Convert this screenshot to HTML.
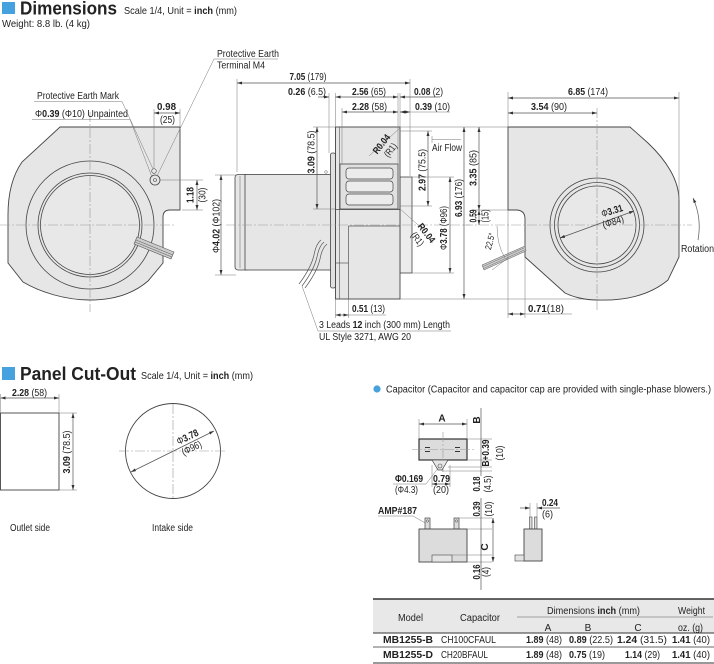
<!DOCTYPE html>
<html><head><meta charset="utf-8"><style>
html,body{margin:0;padding:0;background:#fff;}
svg{display:block;font-size:10px;font-family:"Liberation Sans",Arial,sans-serif}
text{fill:#222}
.b{font-weight:bold}
.d{stroke:#555;stroke-width:0.7;fill:none}
.e{stroke:#777;stroke-width:0.5;fill:none}
.c{stroke:#999;stroke-width:0.6;stroke-dasharray:10,2,2,2;fill:none}
</style></head><body>
<svg width="714" height="664" viewBox="0 0 714 664" xmlns="http://www.w3.org/2000/svg">
<defs><marker id="a" viewBox="0 0 10 6" refX="10" refY="3" markerWidth="5" markerHeight="3" orient="auto-start-reverse" markerUnits="userSpaceOnUse"><path d="M0,0L10,3L0,6z" fill="#333"/></marker></defs>

<!-- HEADER -->
<rect x="2" y="2" width="13" height="12" fill="#45a2de"/>
<text x="20" y="14.5" class="b" font-size="18" textLength="97" lengthAdjust="spacingAndGlyphs">Dimensions</text>
<text x="124" y="14" font-size="10.5" textLength="113" lengthAdjust="spacingAndGlyphs">Scale 1/4, Unit = <tspan class="b">inch</tspan> (mm)</text>
<text x="2" y="27" font-size="10" textLength="88" lengthAdjust="spacingAndGlyphs">Weight: 8.8 lb. (4 kg)</text>

<!-- LEFT VIEW -->
<path d="M60,127 L180,127 L180,210 L170,210 Q163,210 163,217 L163,263 L148,281 C133,294 113,300 90,300 C65,300 40,292 23,282 L8,263 L8,215 Q8,182 22,162 Z" fill="#e6e6e6" stroke="#444" stroke-width="0.9"/>
<circle cx="90" cy="225" r="64" fill="#e6e6e6" stroke="#444" stroke-width="0.8"/>
<circle cx="90" cy="225" r="52" fill="none" stroke="#444" stroke-width="0.8"/>
<circle cx="90" cy="225" r="49.5" fill="#e8e8e8" stroke="#444" stroke-width="0.8"/>
<line class="c" x1="90" y1="112" x2="90" y2="312"/>
<line class="c" x1="0" y1="225" x2="175" y2="225"/>
<polygon points="137,237 174,252 171,259 134,244" fill="#ccc" stroke="#555" stroke-width="0.6"/>
<line x1="136" y1="240" x2="173" y2="255" stroke="#555" stroke-width="0.5"/>
<line x1="135" y1="242" x2="172" y2="257" stroke="#555" stroke-width="0.5"/>
<circle cx="154" cy="171" r="2.3" fill="none" stroke="#444" stroke-width="0.6"/>
<circle cx="155" cy="180" r="5" fill="none" stroke="#444" stroke-width="0.8"/>
<circle cx="155" cy="180" r="1.5" fill="none" stroke="#444" stroke-width="0.6"/>

<text x="37" y="99" textLength="82" lengthAdjust="spacingAndGlyphs">Protective Earth Mark</text>
<line class="e" x1="34" y1="101.5" x2="122" y2="101.5"/>
<text x="35" y="117" textLength="93" lengthAdjust="spacingAndGlyphs">Φ<tspan class="b">0.39</tspan> (Φ10) Unpainted</text>
<line class="e" x1="32" y1="119.5" x2="130" y2="119.5"/>
<line class="e" x1="122" y1="101.5" x2="153" y2="169"/>
<line class="e" x1="130" y1="119.5" x2="152" y2="177"/>
<text x="157" y="110" class="b" textLength="19" lengthAdjust="spacingAndGlyphs">0.98</text>
<text x="160" y="123" textLength="15" lengthAdjust="spacingAndGlyphs">(25)</text>
<line class="e" x1="154" y1="109" x2="154" y2="168"/>
<line class="e" x1="180" y1="109" x2="180" y2="127"/>
<line class="d" x1="154" y1="113" x2="180" y2="113" marker-start="url(#a)" marker-end="url(#a)"/>

<text x="217" y="57" textLength="62" lengthAdjust="spacingAndGlyphs">Protective Earth</text>
<text x="217" y="68.5" textLength="48" lengthAdjust="spacingAndGlyphs">Terminal M4</text>
<line class="e" x1="214" y1="59" x2="278" y2="59"/>
<line class="e" x1="214" y1="59" x2="157" y2="176"/>

<line class="e" x1="160" y1="180" x2="203" y2="180"/>
<line class="e" x1="182" y1="210" x2="203" y2="210"/>
<line class="d" x1="197" y1="180" x2="197" y2="210" marker-start="url(#a)" marker-end="url(#a)"/>
<text class="b" transform="translate(193.5,195) rotate(-90)" text-anchor="middle" textLength="16" lengthAdjust="spacingAndGlyphs">1.18</text>
<text transform="translate(205.5,195) rotate(-90)" text-anchor="middle" textLength="15" lengthAdjust="spacingAndGlyphs">(30)</text>

<line class="e" x1="215" y1="175" x2="236" y2="175"/>
<line class="e" x1="215" y1="275" x2="236" y2="275"/>
<line class="d" x1="221" y1="175" x2="221" y2="275" marker-start="url(#a)" marker-end="url(#a)"/>
<text transform="translate(219.5,226) rotate(-90)" text-anchor="middle" textLength="54" lengthAdjust="spacingAndGlyphs">Φ<tspan class="b">4.02</tspan> (Φ102)</text>

<!-- MIDDLE VIEW -->
<rect x="235" y="174.5" width="14" height="95.5" rx="3" fill="#e6e6e6" stroke="#444" stroke-width="0.8"/>
<line x1="240" y1="176" x2="240" y2="268" stroke="#666" stroke-width="0.5"/>
<rect x="245" y="174.5" width="86" height="95.5" fill="#e6e6e6" stroke="#444" stroke-width="0.8"/>
<rect x="330.5" y="153" width="5" height="135" rx="2" fill="#e0e0e0" stroke="#444" stroke-width="0.8"/>
<rect x="400" y="177" width="12" height="96" fill="#ececec" stroke="#444" stroke-width="0.8"/>
<rect x="335.5" y="127" width="64.5" height="172" fill="#e6e6e6" stroke="#444" stroke-width="0.9"/>
<line x1="339.5" y1="127" x2="339.5" y2="299" stroke="#555" stroke-width="0.6"/>
<rect x="340" y="164" width="58" height="45" fill="#e0e0e0" stroke="#444" stroke-width="0.8"/>
<rect x="346" y="168" width="47" height="11" rx="3" fill="#ececec" stroke="#444" stroke-width="0.7"/>
<rect x="346" y="181" width="47" height="11" rx="3" fill="#ececec" stroke="#444" stroke-width="0.7"/>
<rect x="346" y="194" width="47" height="11" rx="3" fill="#ececec" stroke="#444" stroke-width="0.7"/>
<line x1="335.5" y1="209.5" x2="400" y2="209.5" stroke="#444" stroke-width="0.8"/>
<line x1="348.5" y1="226" x2="348.5" y2="299" stroke="#555" stroke-width="0.7"/>
<line x1="348.5" y1="226" x2="400" y2="226" stroke="#555" stroke-width="0.7"/>
<line x1="336" y1="263" x2="348.5" y2="263" stroke="#555" stroke-width="0.7"/>
<circle cx="326" cy="172" r="1.3" fill="none" stroke="#555" stroke-width="0.5"/>
<line class="c" x1="226" y1="225" x2="470" y2="225"/>
<g fill="none" stroke="#555" stroke-width="0.7">
<path d="M321,240 Q316,244 314,255 Q311,268 299,284"/>
<path d="M324,242 Q319,246 317,257 Q314,270 302,286"/>
<path d="M327,244 Q322,248 320,259 Q317,272 305,288"/>
</g>
<line class="e" x1="302" y1="286" x2="318" y2="331"/>
<line class="e" x1="318" y1="331" x2="451" y2="331"/>
<text x="319" y="328" textLength="131" lengthAdjust="spacingAndGlyphs">3 Leads <tspan class="b">12</tspan> inch (300 mm) Length</text>
<text x="319" y="340" textLength="92" lengthAdjust="spacingAndGlyphs">UL Style 3271,  AWG 20</text>

<!-- middle dims -->
<line class="e" x1="237" y1="79" x2="237" y2="172"/>
<line class="e" x1="410" y1="79" x2="410" y2="176"/>
<line class="d" x1="237" y1="83" x2="410" y2="83" marker-start="url(#a)" marker-end="url(#a)"/>
<text x="308" y="80" text-anchor="middle" textLength="37" lengthAdjust="spacingAndGlyphs"><tspan class="b">7.05</tspan> (179)</text>
<line class="e" x1="329" y1="93" x2="329" y2="153"/>
<line class="e" x1="335.5" y1="93" x2="335.5" y2="127"/>
<line class="e" x1="342" y1="108" x2="342" y2="164"/>
<line class="e" x1="398" y1="93" x2="398" y2="164"/>
<line class="e" x1="400" y1="93" x2="400" y2="127"/>
<line class="d" x1="318" y1="97" x2="329" y2="97" marker-end="url(#a)"/>
<line class="d" x1="335.5" y1="97" x2="398" y2="97" marker-start="url(#a)" marker-end="url(#a)"/>
<line class="d" x1="400" y1="97" x2="440" y2="97" marker-start="url(#a)"/>
<text x="288" y="95" textLength="38" lengthAdjust="spacingAndGlyphs"><tspan class="b">0.26</tspan> (6.5)</text>
<text x="352" y="95" textLength="34" lengthAdjust="spacingAndGlyphs"><tspan class="b">2.56</tspan> (65)</text>
<text x="414" y="95" textLength="29" lengthAdjust="spacingAndGlyphs"><tspan class="b">0.08</tspan> (2)</text>
<line class="d" x1="342" y1="112" x2="398" y2="112" marker-start="url(#a)" marker-end="url(#a)"/>
<line class="d" x1="400" y1="112" x2="410" y2="112" marker-start="url(#a)" marker-end="url(#a)"/>
<line class="e" x1="410" y1="112" x2="450" y2="112"/>
<text x="352" y="110" textLength="35" lengthAdjust="spacingAndGlyphs"><tspan class="b">2.28</tspan> (58)</text>
<text x="415" y="110" textLength="35" lengthAdjust="spacingAndGlyphs"><tspan class="b">0.39</tspan> (10)</text>

<line class="e" x1="313" y1="127" x2="335" y2="127"/>
<line class="e" x1="313" y1="209" x2="335" y2="209"/>
<line class="d" x1="317" y1="127" x2="317" y2="209" marker-start="url(#a)" marker-end="url(#a)"/>
<text transform="translate(314.5,152) rotate(-90)" text-anchor="middle" textLength="43" lengthAdjust="spacingAndGlyphs"><tspan class="b">3.09</tspan> (78.5)</text>

<line class="e" x1="400" y1="128" x2="369" y2="156"/>
<text class="b" transform="translate(384,146) rotate(-52)" text-anchor="middle" font-size="9.5" textLength="22" lengthAdjust="spacingAndGlyphs">R0.04</text>
<text transform="translate(393,152) rotate(-52)" text-anchor="middle" font-size="9.5" textLength="15" lengthAdjust="spacingAndGlyphs">(R1)</text>
<line class="e" x1="399" y1="208" x2="426" y2="232"/>
<text class="b" transform="translate(424,235) rotate(52)" text-anchor="middle" font-size="9.5" textLength="22" lengthAdjust="spacingAndGlyphs">R0.04</text>
<text transform="translate(415,241) rotate(52)" text-anchor="middle" font-size="9.5" textLength="15" lengthAdjust="spacingAndGlyphs">(R1)</text>

<line class="e" x1="432" y1="139.5" x2="461" y2="139.5"/>
<line class="e" x1="432" y1="136" x2="432" y2="143"/>
<text x="432" y="151" textLength="30" lengthAdjust="spacingAndGlyphs">Air Flow</text>
<line class="e" x1="400" y1="131" x2="432" y2="131"/>
<line class="e" x1="400" y1="206" x2="432" y2="206"/>
<line class="d" x1="428" y1="131" x2="428" y2="206" marker-start="url(#a)" marker-end="url(#a)"/>
<text transform="translate(425.5,170) rotate(-90)" text-anchor="middle" textLength="42" lengthAdjust="spacingAndGlyphs"><tspan class="b">2.97</tspan> (75.5)</text>
<line class="e" x1="412" y1="177" x2="454" y2="177"/>
<line class="e" x1="412" y1="273" x2="454" y2="273"/>
<line class="d" x1="450" y1="177" x2="450" y2="273" marker-start="url(#a)" marker-end="url(#a)"/>
<text transform="translate(447,228) rotate(-90)" text-anchor="middle" textLength="44" lengthAdjust="spacingAndGlyphs">Φ<tspan class="b">3.78</tspan> (Φ96)</text>
<line class="e" x1="400" y1="127" x2="508" y2="127"/>
<line class="e" x1="400" y1="299" x2="597" y2="299"/>
<line class="d" x1="464" y1="127" x2="464" y2="299" marker-start="url(#a)" marker-end="url(#a)"/>
<text transform="translate(462,198) rotate(-90)" text-anchor="middle" textLength="38" lengthAdjust="spacingAndGlyphs"><tspan class="b">6.93</tspan> (176)</text>

<line class="e" x1="335.5" y1="299" x2="335.5" y2="318"/>
<line class="e" x1="348.5" y1="299" x2="348.5" y2="318"/>
<line class="d" x1="335.5" y1="315" x2="348.5" y2="315" marker-start="url(#a)" marker-end="url(#a)"/>
<line class="e" x1="348.5" y1="315" x2="386" y2="315"/>
<text x="352" y="312" textLength="33" lengthAdjust="spacingAndGlyphs"><tspan class="b">0.51</tspan> (13)</text>

<!-- RIGHT VIEW -->
<path d="M508,127 L630,127 L648,143 C666,160 679,180 679,200 L679,257 L668,280 C650,295 625,301 597,300 C585,300 573,297 565,293 L525,257 L525,219 Q525,210 516,210 L508,210 Z" fill="#e6e6e6" stroke="#444" stroke-width="0.9"/>
<circle cx="597" cy="225" r="47" fill="#e6e6e6" stroke="#444" stroke-width="0.8"/>
<circle cx="597" cy="225" r="42.5" fill="none" stroke="#444" stroke-width="0.8"/>
<circle cx="597" cy="225" r="39" fill="#e8e8e8" stroke="#444" stroke-width="0.8"/>
<line class="c" x1="597" y1="108" x2="597" y2="312"/>
<line class="c" x1="463" y1="225" x2="692" y2="225"/>
<line class="d" x1="560" y1="238" x2="634" y2="211" marker-start="url(#a)" marker-end="url(#a)"/>
<text transform="translate(613,214) rotate(-17)" text-anchor="middle" textLength="22" lengthAdjust="spacingAndGlyphs">Φ<tspan class="b">3.31</tspan></text>
<text transform="translate(614,225) rotate(-17)" text-anchor="middle" textLength="22" lengthAdjust="spacingAndGlyphs">(Φ84)</text>
<polygon points="525,246 526,251 484,270 482,265" fill="#ccc" stroke="#555" stroke-width="0.5"/>
<line x1="525" y1="247.5" x2="483" y2="266.5" stroke="#555" stroke-width="0.4"/>
<line x1="525.5" y1="249.5" x2="483.5" y2="268.5" stroke="#555" stroke-width="0.4"/>
<path class="e" d="M497,226 Q497,245 505,258"/>
<line class="e" x1="508" y1="258" x2="492" y2="270"/>
<text transform="translate(493,242) rotate(-75)" text-anchor="middle" font-size="9" textLength="17" lengthAdjust="spacingAndGlyphs">22.5°</text>

<line class="e" x1="508" y1="92" x2="508" y2="127"/>
<line class="e" x1="679" y1="92" x2="679" y2="200"/>
<line class="d" x1="508" y1="98" x2="679" y2="98" marker-start="url(#a)" marker-end="url(#a)"/>
<text x="588" y="95" text-anchor="middle" textLength="40" lengthAdjust="spacingAndGlyphs"><tspan class="b">6.85</tspan> (174)</text>
<line class="d" x1="508" y1="113" x2="597" y2="113" marker-start="url(#a)" marker-end="url(#a)"/>
<text x="549" y="110" text-anchor="middle" textLength="36" lengthAdjust="spacingAndGlyphs"><tspan class="b">3.54</tspan> (90)</text>
<line class="e" x1="472" y1="210" x2="508" y2="210"/>
<line class="d" x1="479" y1="127" x2="479" y2="210" marker-start="url(#a)" marker-end="url(#a)"/>
<line class="d" x1="479" y1="210" x2="479" y2="225" marker-start="url(#a)" marker-end="url(#a)"/>
<text transform="translate(476.5,168) rotate(-90)" text-anchor="middle" textLength="36" lengthAdjust="spacingAndGlyphs"><tspan class="b">3.35</tspan> (85)</text>
<text class="b" transform="translate(476.5,216) rotate(-90)" text-anchor="middle" textLength="13" lengthAdjust="spacingAndGlyphs">0.59</text>
<text transform="translate(488.5,216) rotate(-90)" text-anchor="middle" textLength="13" lengthAdjust="spacingAndGlyphs">(15)</text>
<line class="e" x1="508" y1="210" x2="508" y2="318"/>
<line class="e" x1="525" y1="257" x2="525" y2="318"/>
<line class="d" x1="508" y1="314" x2="525" y2="314" marker-start="url(#a)" marker-end="url(#a)"/>
<line class="e" x1="525" y1="314" x2="572" y2="314"/>
<text x="528" y="312" textLength="36" lengthAdjust="spacingAndGlyphs"><tspan class="b">0.71</tspan>(18)</text>
<path class="d" d="M698,240 Q702,218 693,198" marker-end="url(#a)"/>
<text x="681" y="252" textLength="33" lengthAdjust="spacingAndGlyphs">Rotation</text>

<!-- PANEL CUT-OUT -->
<rect x="2" y="367" width="13" height="13" fill="#45a2de"/>
<text x="20" y="380" class="b" font-size="18" textLength="116" lengthAdjust="spacingAndGlyphs">Panel Cut-Out</text>
<text x="141" y="379" font-size="10.5" textLength="112" lengthAdjust="spacingAndGlyphs">Scale 1/4, Unit = <tspan class="b">inch</tspan> (mm)</text>
<rect x="0.5" y="413" width="58.5" height="77" fill="#fff" stroke="#444" stroke-width="0.9"/>
<line class="e" x1="0.5" y1="394" x2="0.5" y2="413"/>
<line class="e" x1="59" y1="394" x2="59" y2="413"/>
<line class="d" x1="0.5" y1="398" x2="59" y2="398" marker-start="url(#a)" marker-end="url(#a)"/>
<text x="12" y="396" textLength="35" lengthAdjust="spacingAndGlyphs"><tspan class="b">2.28</tspan> (58)</text>
<line class="e" x1="59" y1="413" x2="77" y2="413"/>
<line class="e" x1="59" y1="490" x2="77" y2="490"/>
<line class="d" x1="73" y1="413" x2="73" y2="490" marker-start="url(#a)" marker-end="url(#a)"/>
<text transform="translate(70,452) rotate(-90)" text-anchor="middle" textLength="43" lengthAdjust="spacingAndGlyphs"><tspan class="b">3.09</tspan> (78.5)</text>
<circle cx="173" cy="451" r="47.5" fill="none" stroke="#444" stroke-width="0.9"/>
<line class="c" x1="119" y1="451" x2="226" y2="451"/>
<line class="c" x1="173" y1="404" x2="173" y2="500"/>
<line class="d" x1="131" y1="472" x2="214" y2="431" marker-start="url(#a)" marker-end="url(#a)"/>
<text transform="translate(189,440) rotate(-26)" text-anchor="middle" textLength="23" lengthAdjust="spacingAndGlyphs">Φ<tspan class="b">3.78</tspan></text>
<text transform="translate(193,451) rotate(-26)" text-anchor="middle" textLength="21" lengthAdjust="spacingAndGlyphs">(Φ96)</text>
<text x="10" y="531" textLength="40" lengthAdjust="spacingAndGlyphs">Outlet side</text>
<text x="152" y="531" textLength="41" lengthAdjust="spacingAndGlyphs">Intake side</text>

<!-- CAPACITOR -->
<circle cx="377" cy="389" r="3.6" fill="#45a2de"/>
<text x="386" y="392.5" textLength="325" lengthAdjust="spacingAndGlyphs">Capacitor (Capacitor and capacitor cap are provided with single-phase blowers.)</text>
<rect x="419" y="439" width="48" height="21" fill="#dcdcdc" stroke="#333" stroke-width="1.2"/>
<g stroke="#333" stroke-width="1"><line x1="425" y1="447.5" x2="430" y2="447.5"/><line x1="425" y1="451.5" x2="430" y2="451.5"/><line x1="455" y1="447.5" x2="460" y2="447.5"/><line x1="455" y1="451.5" x2="460" y2="451.5"/></g>
<line class="c" x1="443" y1="432" x2="443" y2="472"/>
<line class="c" x1="412" y1="449.5" x2="474" y2="449.5"/>
<polygon points="432,460 448,460 442,470 438,470" fill="#e6e6e6" stroke="#444" stroke-width="0.7"/>
<circle cx="440" cy="466" r="2" fill="none" stroke="#444" stroke-width="0.6"/>
<line class="e" x1="419" y1="419" x2="419" y2="439"/>
<line class="e" x1="467" y1="419" x2="467" y2="439"/>
<line class="d" x1="419" y1="424" x2="467" y2="424" marker-start="url(#a)" marker-end="url(#a)"/>
<text x="442" y="421.5" class="b" text-anchor="middle">A</text>
<line class="e" x1="467" y1="439" x2="492" y2="439"/>
<line class="e" x1="467" y1="460" x2="492" y2="460"/>
<line class="e" x1="448" y1="467" x2="492" y2="467"/>
<line class="e" x1="442" y1="471" x2="492" y2="471"/>
<line class="d" x1="481" y1="408" x2="481" y2="476"/>
<text class="b" transform="translate(480,420) rotate(-90)" text-anchor="middle">B</text>
<text class="b" transform="translate(489,453) rotate(-90)" text-anchor="middle" textLength="27" lengthAdjust="spacingAndGlyphs">B+0.39</text>
<text transform="translate(503,453) rotate(-90)" text-anchor="middle" textLength="15" lengthAdjust="spacingAndGlyphs">(10)</text>
<text class="b" transform="translate(480,484) rotate(-90)" text-anchor="middle" textLength="15" lengthAdjust="spacingAndGlyphs">0.18</text>
<text transform="translate(491,484) rotate(-90)" text-anchor="middle" textLength="17" lengthAdjust="spacingAndGlyphs">(4.5)</text>
<text x="395" y="482" class="b" textLength="28" lengthAdjust="spacingAndGlyphs">Φ0.169</text>
<text x="395" y="493" textLength="23" lengthAdjust="spacingAndGlyphs">(Φ4.3)</text>
<line class="e" x1="393" y1="484" x2="426" y2="484"/>
<line class="e" x1="426" y1="484" x2="439" y2="467"/>
<text x="433" y="482" class="b" textLength="17" lengthAdjust="spacingAndGlyphs">0.79</text>
<text x="433" y="493" textLength="16" lengthAdjust="spacingAndGlyphs">(20)</text>
<line class="e" x1="432" y1="465" x2="432" y2="487"/>
<line class="e" x1="450" y1="465" x2="450" y2="487"/>
<line class="d" x1="432" y1="484" x2="450" y2="484" marker-start="url(#a)" marker-end="url(#a)"/>

<text x="378" y="514" class="b" textLength="39" lengthAdjust="spacingAndGlyphs">AMP#187</text>
<line class="e" x1="378" y1="516" x2="413" y2="516"/>
<line class="e" x1="413" y1="516" x2="427" y2="524"/>
<rect x="425" y="518" width="5" height="11" fill="#dcdcdc" stroke="#444" stroke-width="0.7"/>
<rect x="454" y="518" width="5" height="11" fill="#dcdcdc" stroke="#444" stroke-width="0.7"/>
<circle cx="427.5" cy="521" r="1.2" fill="none" stroke="#444" stroke-width="0.5"/>
<circle cx="456.5" cy="521" r="1.2" fill="none" stroke="#444" stroke-width="0.5"/>
<rect x="419" y="529" width="48" height="33" fill="#dcdcdc" stroke="#444" stroke-width="0.9"/>
<rect x="432" y="555" width="20" height="7" fill="#e4e4e4" stroke="#444" stroke-width="0.6"/>
<line class="e" x1="459" y1="518" x2="492" y2="518"/>
<line class="e" x1="467" y1="529" x2="492" y2="529"/>
<line class="e" x1="452" y1="555" x2="492" y2="555"/>
<line class="e" x1="467" y1="562" x2="492" y2="562"/>
<line class="d" x1="481" y1="498" x2="481" y2="590"/>
<line class="d" x1="493" y1="518" x2="493" y2="562" marker-start="url(#a)" marker-end="url(#a)"/>
<text class="b" transform="translate(480,509) rotate(-90)" text-anchor="middle" textLength="15" lengthAdjust="spacingAndGlyphs">0.39</text>
<text transform="translate(492,509) rotate(-90)" text-anchor="middle" textLength="15" lengthAdjust="spacingAndGlyphs">(10)</text>
<text class="b" transform="translate(488,547) rotate(-90)" text-anchor="middle">C</text>
<text class="b" transform="translate(480,572) rotate(-90)" text-anchor="middle" textLength="15" lengthAdjust="spacingAndGlyphs">0.16</text>
<text transform="translate(489,572) rotate(-90)" text-anchor="middle" textLength="10" lengthAdjust="spacingAndGlyphs">(4)</text>

<rect x="529.5" y="517" width="2.5" height="12" fill="#dcdcdc" stroke="#444" stroke-width="0.6"/>
<rect x="534.5" y="517" width="2.5" height="12" fill="#dcdcdc" stroke="#444" stroke-width="0.6"/>
<rect x="524" y="529" width="18" height="32" fill="#dcdcdc" stroke="#444" stroke-width="0.9"/>
<rect x="515" y="555" width="9" height="6" fill="#e4e4e4" stroke="#444" stroke-width="0.6"/>
<line class="e" x1="530" y1="503" x2="530" y2="517"/>
<line class="e" x1="537" y1="503" x2="537" y2="517"/>
<line class="d" x1="520" y1="508" x2="530" y2="508" marker-end="url(#a)"/>
<line class="d" x1="537" y1="508" x2="560" y2="508" marker-start="url(#a)"/>
<text x="542" y="506" class="b" textLength="16" lengthAdjust="spacingAndGlyphs">0.24</text>
<text x="542" y="517.5" textLength="11" lengthAdjust="spacingAndGlyphs">(6)</text>

<!-- TABLE -->
<rect x="373" y="599" width="341" height="34" fill="#e8e8e8"/>
<line x1="373" y1="599" x2="714" y2="599" stroke="#333" stroke-width="1.6"/>
<line x1="373" y1="633" x2="714" y2="633" stroke="#333" stroke-width="1"/>
<line x1="517" y1="617" x2="713" y2="617" stroke="#888" stroke-width="0.7"/>
<line x1="373" y1="647" x2="714" y2="647" stroke="#333" stroke-width="0.8"/>
<line x1="373" y1="663" x2="714" y2="663" stroke="#333" stroke-width="1"/>
<text x="410.5" y="621" text-anchor="middle" textLength="25" lengthAdjust="spacingAndGlyphs">Model</text>
<text x="480" y="621" text-anchor="middle" textLength="40" lengthAdjust="spacingAndGlyphs">Capacitor</text>
<text x="593.5" y="614" text-anchor="middle" textLength="93" lengthAdjust="spacingAndGlyphs">Dimensions <tspan class="b">inch</tspan> (mm)</text>
<text x="691.5" y="614" text-anchor="middle" textLength="27" lengthAdjust="spacingAndGlyphs">Weight</text>
<text x="548" y="631" text-anchor="middle">A</text>
<text x="588" y="631" text-anchor="middle">B</text>
<text x="638" y="631" text-anchor="middle">C</text>
<text x="690.5" y="631" text-anchor="middle" textLength="25" lengthAdjust="spacingAndGlyphs">oz. (g)</text>
<text x="383" y="643" class="b" font-size="10.5" textLength="50" lengthAdjust="spacingAndGlyphs">MB1255-B</text>
<text x="441" y="643" font-size="10.5" textLength="55" lengthAdjust="spacingAndGlyphs">CH100CFAUL</text>
<text x="526" y="643" font-size="10.5" textLength="36" lengthAdjust="spacingAndGlyphs"><tspan class="b">1.89</tspan> (48)</text>
<text x="569" y="643" font-size="10.5" textLength="44" lengthAdjust="spacingAndGlyphs"><tspan class="b">0.89</tspan> (22.5)</text>
<text x="617" y="643" font-size="10.5" textLength="50" lengthAdjust="spacingAndGlyphs"><tspan class="b">1.24</tspan> (31.5)</text>
<text x="672" y="643" font-size="10.5" textLength="38" lengthAdjust="spacingAndGlyphs"><tspan class="b">1.41</tspan> (40)</text>
<text x="383" y="658" class="b" font-size="10.5" textLength="50" lengthAdjust="spacingAndGlyphs">MB1255-D</text>
<text x="441" y="658" font-size="10.5" textLength="47" lengthAdjust="spacingAndGlyphs">CH20BFAUL</text>
<text x="526" y="658" font-size="10.5" textLength="36" lengthAdjust="spacingAndGlyphs"><tspan class="b">1.89</tspan> (48)</text>
<text x="569" y="658" font-size="10.5" textLength="36" lengthAdjust="spacingAndGlyphs"><tspan class="b">0.75</tspan> (19)</text>
<text x="625" y="658" font-size="10.5" textLength="35" lengthAdjust="spacingAndGlyphs"><tspan class="b">1.14</tspan> (29)</text>
<text x="672" y="658" font-size="10.5" textLength="38" lengthAdjust="spacingAndGlyphs"><tspan class="b">1.41</tspan> (40)</text>
</svg>
</body></html>
